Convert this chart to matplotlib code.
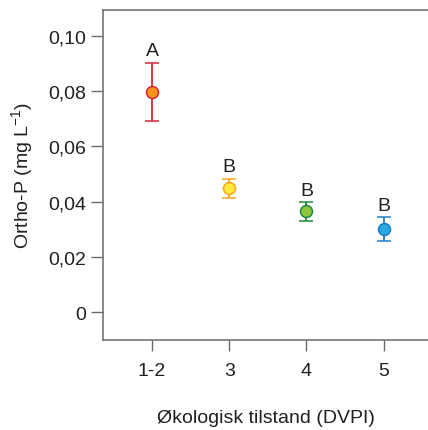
import numpy as np
import matplotlib.pyplot as plt

plt.rcParams['font.family'] = ['Liberation Sans', 'DejaVu Sans']
plt.rcParams['mathtext.fontset'] = 'custom'
plt.rcParams['mathtext.rm'] = 'Liberation Sans'

# DVPI classes and ortho-P means with error bounds
klasser = ['1-2', '3', '4', '5']
middel = [0.0797, 0.0449, 0.0365, 0.0301]
ovre = [0.0903, 0.0483, 0.0397, 0.0345]
nedre = [0.0691, 0.0413, 0.0331, 0.0258]
bokstav = ['A', 'B', 'B', 'B']

fyll = ['#F7941D', '#FFE93B', '#8DC63F', '#28A9E1']
kant = ['#D4282D', '#F7A520', '#1F8A3F', '#1E7EC2']

tekst = '#231F20'
akse = '#6A6A6A'

fig = plt.figure(figsize=(4.28, 4.31), dpi=100)
ax = fig.add_axes([0.2407, 0.2095, 0.7593, 0.765])

x = np.arange(1, len(klasser) + 1)
for i in range(len(klasser)):
    yerr = [[middel[i] - nedre[i]], [ovre[i] - middel[i]]]
    ax.errorbar(x[i], middel[i], yerr=yerr, fmt='o', ms=8.6,
                mfc=fyll[i], mec=kant[i], mew=1.1, ecolor=kant[i],
                elinewidth=1.3, capsize=5, capthick=1.3, zorder=3)
    ax.annotate(bokstav[i], (x[i], ovre[i]), xytext=(0, 8.5),
                textcoords='offset points', ha='center', va='center',
                fontsize=14, color=tekst)

ax.set_xlim(0.365, 4.575)
ax.set_ylim(-0.010, 0.1094)
ax.set_xticks(x)
ax.set_xticklabels(klasser)
yt = [0, 0.02, 0.04, 0.06, 0.08, 0.10]
ax.set_yticks(yt)
ax.set_yticklabels(['0'] + [f'{v:.2f}'.replace('.', ',') for v in yt[1:]])

ax.spines['right'].set_visible(False)
for s in ['left', 'top', 'bottom']:
    ax.spines[s].set_color(akse)
    ax.spines[s].set_linewidth(1.1)

ax.tick_params(axis='both', direction='out', length=8.5, width=1.0,
               color=akse, labelsize=14, labelcolor=tekst, pad=3.5)
ax.tick_params(axis='x', length=8, pad=8)

ax.set_xlabel('Økologisk tilstand (DVPI)', fontsize=14, color=tekst, labelpad=21.5)
ax.set_ylabel(r'Ortho-P (mg L$^{\mathregular{-1}}$)', fontsize=14, color=tekst,
              labelpad=9)

fig.savefig('out.png', dpi=100)
